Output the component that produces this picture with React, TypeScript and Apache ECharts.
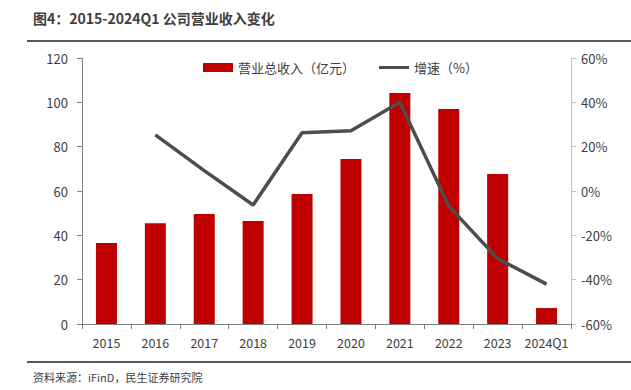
import React, { useEffect, useRef } from "react";
import * as echarts from "echarts";

const categories = ["2015", "2016", "2017", "2018", "2019", "2020", "2021", "2022", "2023", "2024Q1"];
const revenue = [36.5, 45.5, 49.6, 46.5, 58.6, 74.4, 104.2, 97.0, 67.7, 7.2];
const growth = [null, 25.3, 9.2, -6.3, 26.3, 27.2, 40.0, -6.8, -30.5, -42.0];
const leftTicks = [0, 20, 40, 60, 80, 100, 120];
const rightTicks = [-60, -40, -20, 0, 20, 40, 60];

const FONT = "'Noto Sans CJK SC', 'Noto Sans', sans-serif";

export default function App() {
  const ref = useRef<HTMLDivElement>(null);
  useEffect(() => {
    if (!ref.current) return;
    const chart = echarts.init(ref.current, undefined, { renderer: "svg" });
    chart.setOption({
      animation: false,
      textStyle: { fontFamily: FONT },
      graphic: [
        { type: "text", left: 33, top: 11, style: { text: "图4：2015-2024Q1 公司营业收入变化", font: `bold 14px ${FONT}`, fill: "#404040" } },
        { type: "line", shape: { x1: 27, y1: 41, x2: 631, y2: 41 }, style: { stroke: "#595959", lineWidth: 2 } },
        { type: "line", shape: { x1: 27, y1: 362, x2: 631, y2: 362 }, style: { stroke: "#595959", lineWidth: 2 } },
        { type: "text", left: 33, top: 371, style: { text: "资料来源：iFinD，民生证券研究院", font: `11px ${FONT}`, fill: "#404040" } },
      ],
      legend: {
        top: 56,
        left: 198,
        itemGap: 24,
        itemWidth: 30,
        itemHeight: 9,
        textStyle: { fontSize: 13, color: "#404040", fontFamily: FONT },
        data: [
          { name: "营业总收入（亿元）", icon: "rect" },
          { name: "增速（%）", icon: "path://M0,3.5 L30,3.5 L30,6.5 L0,6.5 Z" },
        ],
      },
      grid: { left: 82, right: 60, top: 58, bottom: 66 },
      xAxis: {
        type: "category",
        data: categories,
        axisLine: { lineStyle: { color: "#808080" } },
        axisTick: { show: true, interval: 0, alignWithLabel: false, lineStyle: { color: "#808080" } },
        axisLabel: { color: "#404040", fontSize: 12.5, margin: 12, interval: 0 },
      },
      yAxis: [
        {
          type: "value",
          min: leftTicks[0],
          max: leftTicks[leftTicks.length - 1],
          interval: 20,
          axisLine: { show: true, lineStyle: { color: "#808080" } },
          axisTick: { show: true, lineStyle: { color: "#808080" } },
          splitLine: { show: false },
          axisLabel: { color: "#404040", fontSize: 13, margin: 14 },
        },
        {
          type: "value",
          min: rightTicks[0],
          max: rightTicks[rightTicks.length - 1],
          interval: 20,
          position: "right",
          axisLine: { show: true, lineStyle: { color: "#BFBFBF" } },
          axisTick: { show: true, lineStyle: { color: "#BFBFBF" } },
          splitLine: { show: false },
          axisLabel: { color: "#404040", fontSize: 13, margin: 10, formatter: "{value}%" },
        },
      ],
      series: [
        {
          name: "营业总收入（亿元）",
          type: "bar",
          data: revenue,
          barWidth: 21,
          itemStyle: { color: "#C00000" },
        },
        {
          name: "增速（%）",
          type: "line",
          yAxisIndex: 1,
          data: growth,
          symbol: "none",
          lineStyle: { color: "#4D4D4D", width: 3.5 },
          itemStyle: { color: "#4D4D4D" },
        },
      ],
    });
    return () => chart.dispose();
  }, []);
  return <div ref={ref} style={{ width: 631, height: 390, position: "absolute", left: 0, top: 0 }} />;
}
